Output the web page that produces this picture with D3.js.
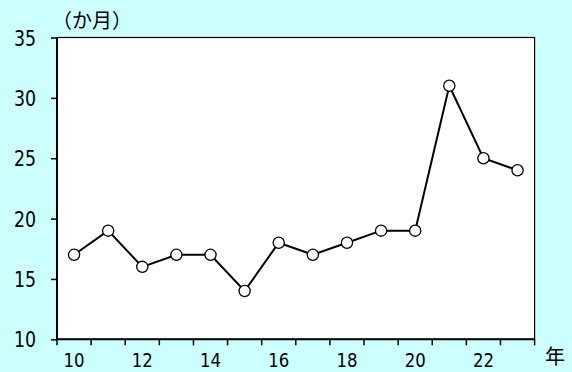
<!DOCTYPE html>
<html><head><meta charset="utf-8">
<script src="https://cdn.jsdelivr.net/npm/d3@7"></script>
<style>
html,body{margin:0;padding:0;background:#ccffff;}
svg{display:block;}
text{fill:#000;}
.num{font-family:"DejaVu Sans Condensed","DejaVu Sans",sans-serif;}
.jp{font-family:"Noto Sans CJK JP",sans-serif;}
</style></head>
<body><svg id="c" width="572" height="372"></svg>
<script>
const years = [10,11,12,13,14,15,16,17,18,19,20,21,22,23];
const values = [17,19,16,17,17,14,18,17,18,19,19,31,25,24];
const yTicks = [10,15,20,25,30,35];
const xLabelYears = [10,12,14,16,18,20,22];
const yUnit = "（か月）";
const xUnit = "年";

const svg = d3.select("#c");
const L = 57, R = 534.6, T = 37.5, B = 339.3;
const FS = 21, SX = 0.92;

svg.append("rect").attr("x",0).attr("y",0).attr("width",572).attr("height",372).attr("fill","#ccffff");
svg.append("rect").attr("x",L).attr("y",T).attr("width",R-L).attr("height",B-T).attr("fill","#fff");

const x = d3.scaleBand().domain(years).range([L,R]).padding(0);
const y = d3.scaleLinear().domain([10,35]).range([B,T]);

// y axis
const ya = svg.append("g").attr("transform",`translate(${L},0)`)
  .call(d3.axisLeft(y).tickValues(yTicks).tickSize(6).tickFormat(d3.format("d")));
ya.select(".domain").remove();
ya.selectAll("line").attr("stroke","#000").attr("stroke-width",1.5);
ya.selectAll("text").attr("class","num").attr("font-size",FS).attr("dy","0.36em")
  .attr("x",0).attr("transform",`translate(-21,0) scale(${SX},1)`);

// x axis ticks at band boundaries
const bounds = years.map(d=>x(d)).concat([x(years[years.length-1])+x.bandwidth()]);
svg.append("g").selectAll("line").data(bounds).join("line")
  .attr("x1",d=>d).attr("x2",d=>d).attr("y1",B).attr("y2",B+6)
  .attr("stroke","#000").attr("stroke-width",1.5);
svg.append("g").selectAll("text").data(xLabelYears).join("text").attr("class","num")
  .attr("transform",d=>`translate(${x(d)+x.bandwidth()/2},366.5) scale(${SX},1)`)
  .attr("text-anchor","middle").attr("font-size",20).text(d=>d);

// border
svg.append("rect").attr("x",L).attr("y",T).attr("width",R-L).attr("height",B-T)
  .attr("fill","none").attr("stroke","#000").attr("stroke-width",1.2);
svg.append("line").attr("x1",L).attr("x2",L).attr("y1",T).attr("y2",B).attr("stroke","#000").attr("stroke-width",2);
svg.append("line").attr("x1",L).attr("x2",R).attr("y1",B).attr("y2",B).attr("stroke","#000").attr("stroke-width",2);

// line
const line = d3.line().x((d,i)=>x(years[i])+x.bandwidth()/2).y(d=>y(d));
svg.append("path").datum(values).attr("d",line).attr("fill","none").attr("stroke","#000").attr("stroke-width",2);
svg.append("g").selectAll("circle").data(values).join("circle")
  .attr("cx",(d,i)=>x(years[i])+x.bandwidth()/2).attr("cy",d=>y(d)).attr("r",5.6)
  .attr("fill","#fff").attr("stroke","#000").attr("stroke-width",1.3);

svg.append("text").attr("class","jp").attr("x",52).attr("y",21).attr("dy","0.36em").attr("font-size",20).text(yUnit);
svg.append("text").attr("class","jp").attr("x",545).attr("y",357).attr("dy","0.36em").attr("font-size",20).text(xUnit);
</script></body></html>
